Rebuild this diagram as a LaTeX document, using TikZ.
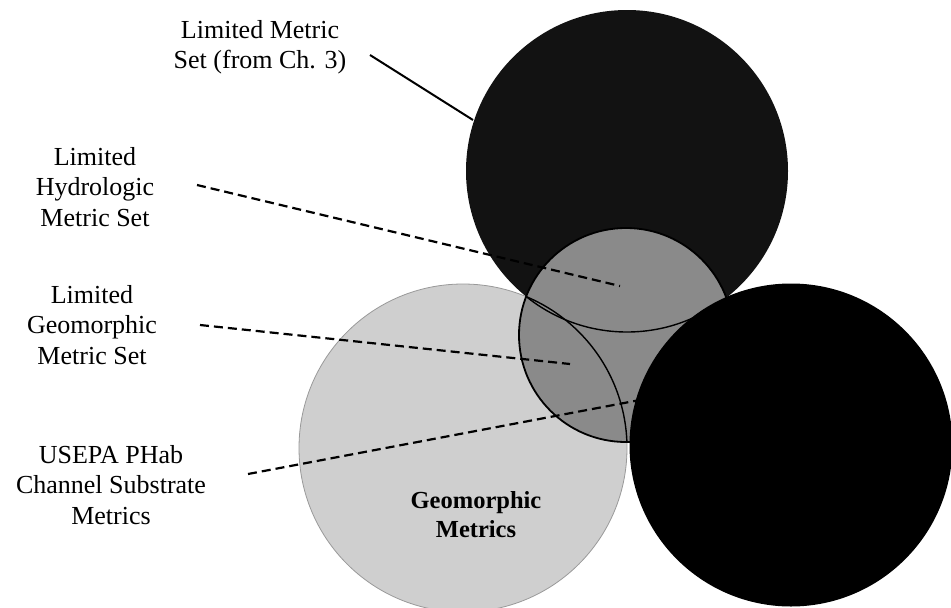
\documentclass[tikz,border=0pt]{standalone}
\usepackage{fontspec}
\setmainfont{Liberation Serif}
\begin{document}
\begin{tikzpicture}[x=1pt,y=-1pt,
  lbl/.style={align=center, inner sep=0pt, anchor=north,
    font=\fontsize{26}{30.5}\selectfont},
  leader/.style={line width=2.2pt, dash pattern=on 9pt off 5pt},
  pointer/.style={line width=2pt},
  edge/.style={line width=1.4pt, black}]
\useasboundingbox (0,0) rectangle (951,608);

% circle centres
\coordinate (cGeo)  at (463,448);
\coordinate (cLim)  at (627,171);
\coordinate (cSub)  at (626,335);
\coordinate (cBio)  at (791,445);

% geomorphic metrics set (light)
\fill[black!19] (cGeo) circle [radius=164pt];
\draw[black!40, line width=0.8pt] (cGeo) circle [radius=164pt];
% limited metric set (dark)
\fill[black!93] (cLim) circle [radius=161pt];
% limited subsets (mid grey)
\fill[black!46] (cSub) circle [radius=107pt];
\begin{scope}
  \clip (cSub) circle [radius=107pt];
  \draw[edge] (cLim) circle [radius=161pt];
  \draw[edge] (cGeo) circle [radius=164pt];
\end{scope}
\draw[line width=1.8pt] (cSub) circle [radius=107pt];

% text labels
\node[lbl] (lms) at (260,20) {Limited Metric\\Set (from Ch. 3)};
\node[lbl] (lhm) at (95,147) {Limited\\Hydrologic\\Metric Set};
\node[lbl] (lgm) at (92,285) {Limited\\Geomorphic\\Metric Set};
\node[lbl] (pha) at (111,445) {USEPA PHab\\Channel Substrate\\Metrics};
\node[inner sep=0pt, anchor=north, align=center,
      font=\bfseries\fontsize{24.5}{29}\selectfont] (geo) at (476,491)
      {Geomorphic\\Metrics};

% connector ends
\coordinate (lmsA) at (370,55);
\coordinate (lmsB) at (473,120);
\coordinate (lhmA) at (197,185);
\coordinate (lhmB) at (620,286);
\coordinate (lgmA) at (200,325);
\coordinate (lgmB) at (570,364);
\coordinate (phaA) at (248,474);
\coordinate (phaB) at (640,400);

\draw[pointer] (lmsA) -- (lmsB);
\draw[leader] (lhmA) -- (lhmB);
\draw[leader] (lgmA) -- (lgmB);
\draw[leader] (phaA) -- (phaB);

% black set on top
\fill[black] (cBio) circle [radius=161.5pt];
\end{tikzpicture}
\end{document}
